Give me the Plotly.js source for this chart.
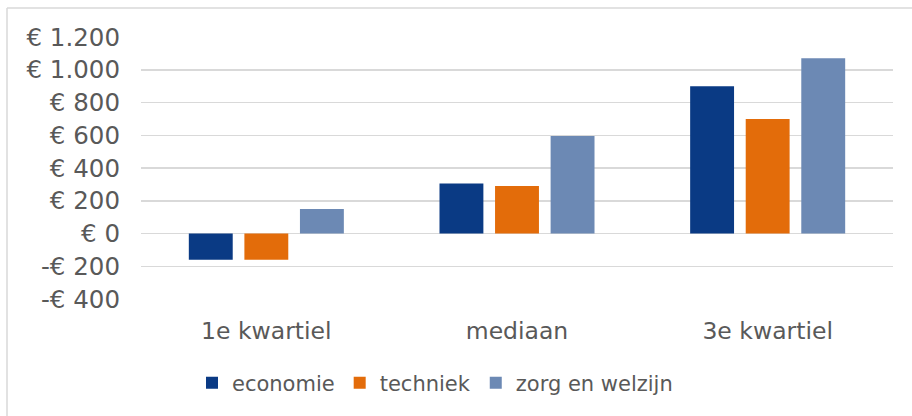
<!DOCTYPE html>
<html>
<head>
<meta charset="utf-8">
<script src="https://cdn.plot.ly/plotly-3.0.1.min.js"></script>
<style>
html,body{margin:0;padding:0;background:#fff;}
#chart{width:912px;height:416px;}
</style>
</head>
<body>
<div id="chart"></div>
<script>
const categories = ["1e kwartiel", "mediaan", "3e kwartiel"];
const economie = [-160, 305, 900];
const techniek = [-160, 290, 700];
const zorgEnWelzijn = [150, 595, 1070];
const seriesNames = ["economie", "techniek", "zorg en welzijn"];
const yTickVals = [-400, -200, 0, 200, 400, 600, 800, 1000, 1200];
const yTickText = ["-€ 400", "-€ 200", "€ 0", "€ 200", "€ 400", "€ 600", "€ 800", "€ 1.000", "€ 1.200"];

const colors = ["#0A3A84", "#E36C0A", "#6C89B4"];
const font = "DejaVu Sans, Verdana, sans-serif";
const textColor = "#595959";

const W = 912, H = 416;
const M = {l: 141, r: 19, t: 37, b: 117};
const pw = W - M.l - M.r, ph = H - M.t - M.b;
const px = x => (x - M.l) / pw;
const py = y => (H - M.b - y) / ph;

const data = [economie, techniek, zorgEnWelzijn].map((vals, i) => ({
  type: "bar",
  name: seriesNames[i],
  x: categories,
  y: vals,
  marker: {color: colors[i]},
  hoverinfo: "none"
}));

const layout = {
  width: W, height: H,
  margin: M,
  paper_bgcolor: "#fff",
  plot_bgcolor: "#fff",
  font: {family: font, color: textColor, size: 22},
  barmode: "group",
  bargap: 0.335,
  bargroupgap: 0.21,
  showlegend: true,
  legend: {
    orientation: "h",
    x: px(435), xanchor: "center",
    y: py(383), yanchor: "middle",
    font: {family: font, size: 21, color: textColor},
    itemclick: false, itemdoubleclick: false
  },
  xaxis: {
    type: "category",
    showgrid: false,
    zeroline: false,
    showline: false,
    ticks: "",
    tickfont: {family: font, size: 23.5, color: textColor},
    ticklabelstandoff: 15
  },
  yaxis: {
    range: [-400, 1200],
    tickvals: yTickVals,
    ticktext: yTickText,
    showgrid: true,
    gridcolor: "#d9d9d9",
    gridwidth: 1.5,
    zeroline: true,
    zerolinecolor: "#d9d9d9",
    zerolinewidth: 1.5,
    showline: false,
    ticks: "",
    tickfont: {family: font, size: 24.5, color: textColor},
    ticklabelstandoff: 20
  },
  shapes: [
    {type: "line", xref: "paper", yref: "paper", x0: px(7), x1: px(912), y0: py(8), y1: py(8),
     line: {color: "#d9d9d9", width: 1.5}},
    {type: "line", xref: "paper", yref: "paper", x0: px(7), x1: px(7), y0: py(8), y1: py(416),
     line: {color: "#d9d9d9", width: 1.5}}
  ]
};

Plotly.newPlot("chart", data, layout, {displayModeBar: false, staticPlot: true});
</script>
</body>
</html>
